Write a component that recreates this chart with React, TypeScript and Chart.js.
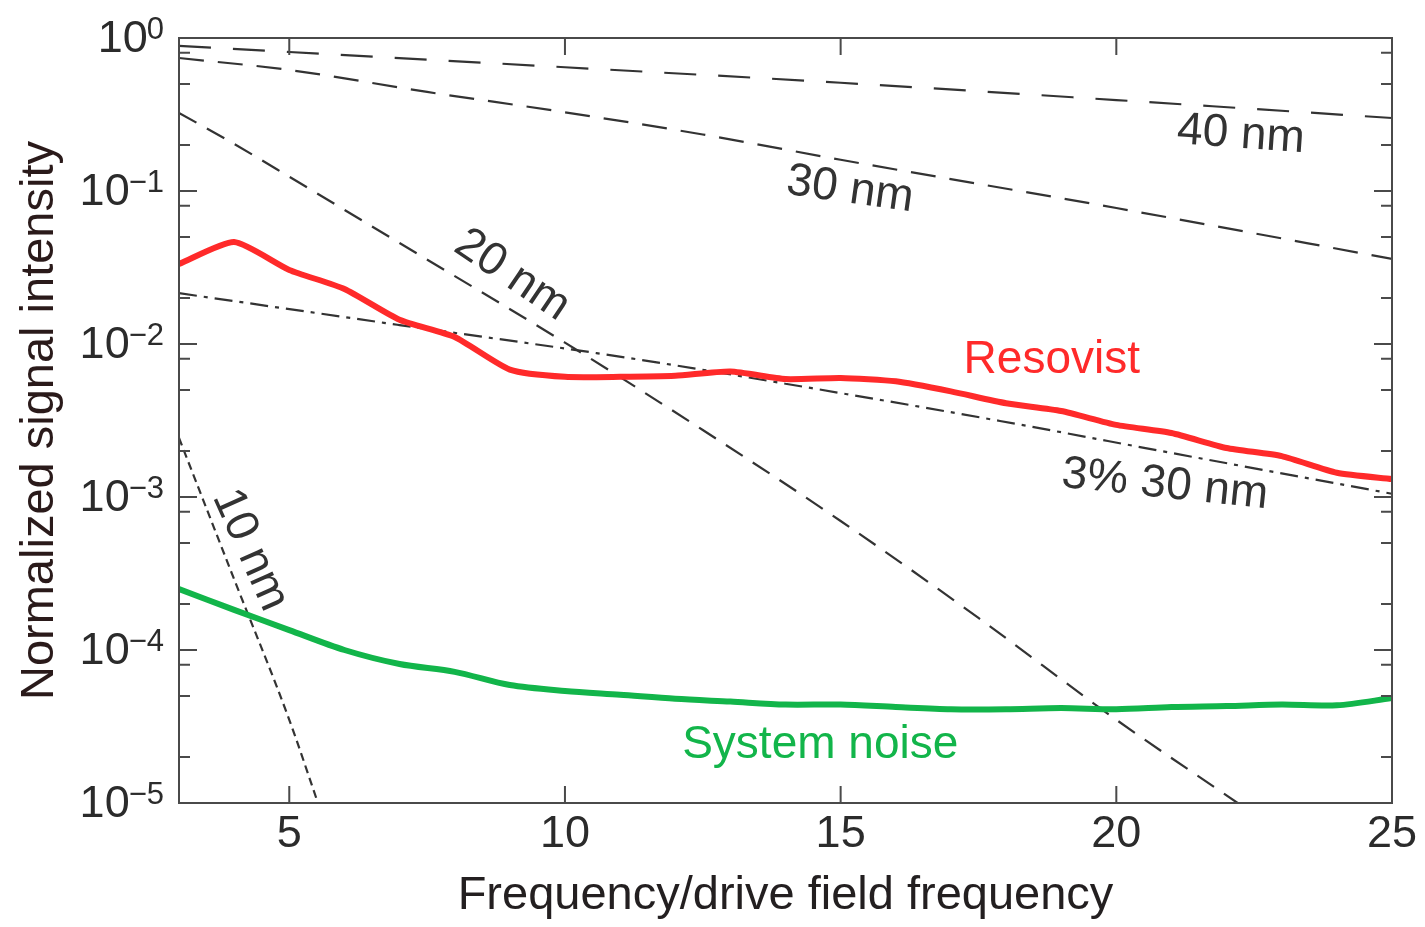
import React, { useEffect, useRef } from "react";
import { Chart, registerables } from "chart.js";

Chart.register(...registerables);

// ---- data ----
const FREQ = [3, 4, 5, 6, 7, 8, 9, 10, 11, 12, 13, 14, 15, 16, 17, 18, 19, 20, 21, 22, 23, 24, 25];
const RESOVIST = [
  0.0333, 0.0464, 0.0305, 0.0229, 0.0144, 0.0111, 0.0068, 0.0061, 0.0061, 0.0062, 0.0066, 0.0059,
  0.006, 0.0057, 0.0049, 0.0041, 0.00365, 0.00296, 0.00262, 0.00209, 0.00185, 0.00144, 0.00131,
];
const SYSTEM_NOISE = [
  2.5e-4, 1.83e-4, 1.35e-4, 1.0e-4, 8.1e-5, 7.2e-5, 5.9e-5, 5.4e-5, 5.1e-5, 4.8e-5, 4.6e-5, 4.4e-5,
  4.4e-5, 4.24e-5, 4.1e-5, 4.1e-5, 4.17e-5, 4.1e-5, 4.24e-5, 4.3e-5, 4.4e-5, 4.35e-5, 4.85e-5,
];
const NM40_X = [3, 5, 10, 15, 20, 25];
const NM40_Y = [0.887, 0.81, 0.644, 0.51, 0.393, 0.3];
const NM30_X = [3, 5, 7.5, 10, 12.5, 15, 20, 25];
const NM30_Y = [0.74, 0.618, 0.444, 0.327, 0.234, 0.16, 0.0774, 0.036];
const NM20_X = [3, 4, 5, 7, 10, 12.5, 15, 17.5, 20, 22.2];
const NM20_Y = [0.324, 0.203, 0.124, 0.0457, 0.0102, 0.00274, 6.97e-4, 1.62e-4, 3.5e-5, 1e-5];
const NM10_X = [3, 4, 5, 5.52];
const NM10_Y = [2.43e-3, 2.9e-4, 3.5e-5, 1e-5];
const PCT3_NM30_X = [3, 7, 11.16, 14, 17.89, 21, 25];
const PCT3_NM30_Y = [0.0215, 0.0133, 0.0081, 0.0055, 0.00314, 0.00194, 0.00105];

const X_TICKS = [5, 10, 15, 20, 25];
const Y_MAJOR = [1, 1e-1, 1e-2, 1e-3, 1e-4, 1e-5];
const Y_MINOR_MULT = [2, 5, 8];

const X_TITLE = "Frequency/drive field frequency";
const Y_TITLE = "Normalized signal intensity";

const LABELS = [
  { text: "40 nm", x: 22.26, y: 0.232, rot: 4, color: "#333333" },
  { text: "30 nm", x: 15.17, y: 0.1016, rot: 8, color: "#333333" },
  { text: "20 nm", x: 9.04, y: 0.0282, rot: 34, color: "#333333" },
  { text: "10 nm", x: 4.29, y: 4.5e-4, rot: 66, color: "#333333" },
  { text: "3% 30 nm", x: 20.88, y: 1.2e-3, rot: 6, color: "#333333" },
  { text: "Resovist", x: 18.83, y: 7.86e-3, rot: 0, color: "#ff2a2a" },
  { text: "System noise", x: 14.63, y: 2.39e-5, rot: 0, color: "#12b54a" },
];

const FONT = '"Liberation Sans", Arial, Helvetica, sans-serif';
const RED = "#ff2a2a";
const GREEN = "#12b54a";
const DASH_COLOR = "#333333";

const zip = (xs: number[], ys: number[]) => xs.map((x, i) => ({ x, y: ys[i] }));

const isMajor = (v: number) => Math.abs(Math.log10(v) - Math.round(Math.log10(v))) < 1e-9;

const decorPlugin = {
  id: "decor",
  afterDatasetsDraw(chart: any) {
    const { ctx, chartArea: a, scales } = chart;
    const xs = scales.x;
    const ys = scales.y;
    ctx.save();

    // frame
    ctx.strokeStyle = "#4a4a4a";
    ctx.lineWidth = 2;
    ctx.strokeRect(a.left, a.top, a.right - a.left, a.bottom - a.top);

    // y ticks (inward, both sides)
    ys.ticks.forEach((t: any) => {
      const py = ys.getPixelForValue(t.value);
      const len = isMajor(t.value) ? 18 : 11;
      ctx.beginPath();
      ctx.moveTo(a.left, py);
      ctx.lineTo(a.left + len, py);
      ctx.moveTo(a.right, py);
      ctx.lineTo(a.right - len, py);
      ctx.stroke();
    });
    // x ticks (inward, top and bottom)
    X_TICKS.forEach((v) => {
      const px = xs.getPixelForValue(v);
      ctx.beginPath();
      ctx.moveTo(px, a.bottom);
      ctx.lineTo(px, a.bottom - 17);
      ctx.moveTo(px, a.top);
      ctx.lineTo(px, a.top + 17);
      ctx.stroke();
    });

    // y tick labels 10^n
    ctx.fillStyle = "#2b2b2b";
    Y_MAJOR.forEach((v) => {
      const e = Math.round(Math.log10(v));
      const py = ys.getPixelForValue(v);
      const base = "10";
      const sup = e === 0 ? "0" : "\u2212" + Math.abs(e);
      ctx.font = `45px ${FONT}`;
      const w1 = ctx.measureText(base).width;
      ctx.font = `31px ${FONT}`;
      const w2 = ctx.measureText(sup).width;
      const right = a.left - 14;
      const x0 = right - w1 - w2;
      ctx.textAlign = "left";
      ctx.textBaseline = "middle";
      ctx.font = `45px ${FONT}`;
      ctx.fillText(base, x0, py + 2);
      ctx.font = `31px ${FONT}`;
      ctx.fillText(sup, x0 + w1 - 1, py - 8);
    });

    // x tick labels
    ctx.font = `45px ${FONT}`;
    ctx.textAlign = "center";
    ctx.textBaseline = "middle";
    X_TICKS.forEach((v) => {
      ctx.fillText(String(v), xs.getPixelForValue(v), a.bottom + 32);
    });

    // axis titles
    ctx.fillStyle = "#231f20";
    ctx.font = `47px ${FONT}`;
    ctx.fillText(X_TITLE, (a.left + a.right) / 2, a.bottom + 93);
    ctx.save();
    ctx.fillStyle = "#2a1a1a";
    ctx.translate(40, (a.top + a.bottom) / 2);
    ctx.rotate(-Math.PI / 2);
    ctx.fillText(Y_TITLE, 0, 0);
    ctx.restore();

    // curve labels
    LABELS.forEach((l) => {
      const px = xs.getPixelForValue(l.x);
      const py = ys.getPixelForValue(l.y);
      ctx.save();
      ctx.translate(px, py);
      ctx.rotate((l.rot * Math.PI) / 180);
      ctx.fillStyle = l.color;
      ctx.font = `46px ${FONT}`;
      ctx.textAlign = "center";
      ctx.textBaseline = "middle";
      ctx.fillText(l.text, 0, 0);
      ctx.restore();
    });

    ctx.restore();
  },
};

export default function App() {
  const ref = useRef<HTMLCanvasElement | null>(null);

  useEffect(() => {
    if (!ref.current) return;
    const dashed = (data: any[], dash: number[]) => ({
      data,
      borderColor: DASH_COLOR,
      borderWidth: 2.2,
      borderDash: dash,
      pointRadius: 0,
      fill: false,
      cubicInterpolationMode: "monotone" as const,
    });
    const chart = new Chart(ref.current, {
      type: "line",
      data: {
        datasets: [
          {
            data: zip(FREQ, RESOVIST),
            borderColor: RED,
            borderWidth: 6,
            pointRadius: 0,
            tension: 0.2,
            fill: false,
          },
          {
            data: zip(FREQ, SYSTEM_NOISE),
            borderColor: GREEN,
            borderWidth: 6,
            pointRadius: 0,
            tension: 0.3,
            fill: false,
          },
          dashed(zip(NM40_X, NM40_Y), [32, 22]),
          dashed(zip(NM30_X, NM30_Y), [25, 14]),
          dashed(zip(NM20_X, NM20_Y), [20, 12]),
          dashed(zip(NM10_X, NM10_Y), [8, 5]),
          dashed(zip(PCT3_NM30_X, PCT3_NM30_Y), [18, 7, 4, 7]),
        ],
      },
      options: {
        animation: false,
        responsive: true,
        maintainAspectRatio: false,
        layout: { padding: { top: 38, right: 33, left: 0, bottom: 0 } },
        plugins: { legend: { display: false }, tooltip: { enabled: false } },
        scales: {
          x: {
            type: "linear",
            min: 3,
            max: 25,
            grid: { display: false },
            border: { display: false },
            ticks: { display: false },
            afterBuildTicks: (s: any) => {
              s.ticks = X_TICKS.map((v) => ({ value: v }));
            },
            afterFit: (s: any) => {
              s.height = 124;
            },
          },
          y: {
            type: "logarithmic",
            min: 1e-5,
            max: 1,
            grid: { display: false },
            border: { display: false },
            ticks: { display: false },
            afterBuildTicks: (s: any) => {
              const t: any[] = [];
              Y_MAJOR.forEach((m) => {
                t.push({ value: m });
                if (m < 1) Y_MINOR_MULT.forEach((k) => t.push({ value: m * k }));
              });
              s.ticks = t;
            },
            afterFit: (s: any) => {
              s.width = 179;
            },
          },
        },
      },
      plugins: [decorPlugin],
    });
    return () => chart.destroy();
  }, []);

  return (
    <div style={{ position: "absolute", left: 0, top: 0, width: 1425, height: 927, background: "#fff" }}>
      <canvas ref={ref} />
    </div>
  );
}
